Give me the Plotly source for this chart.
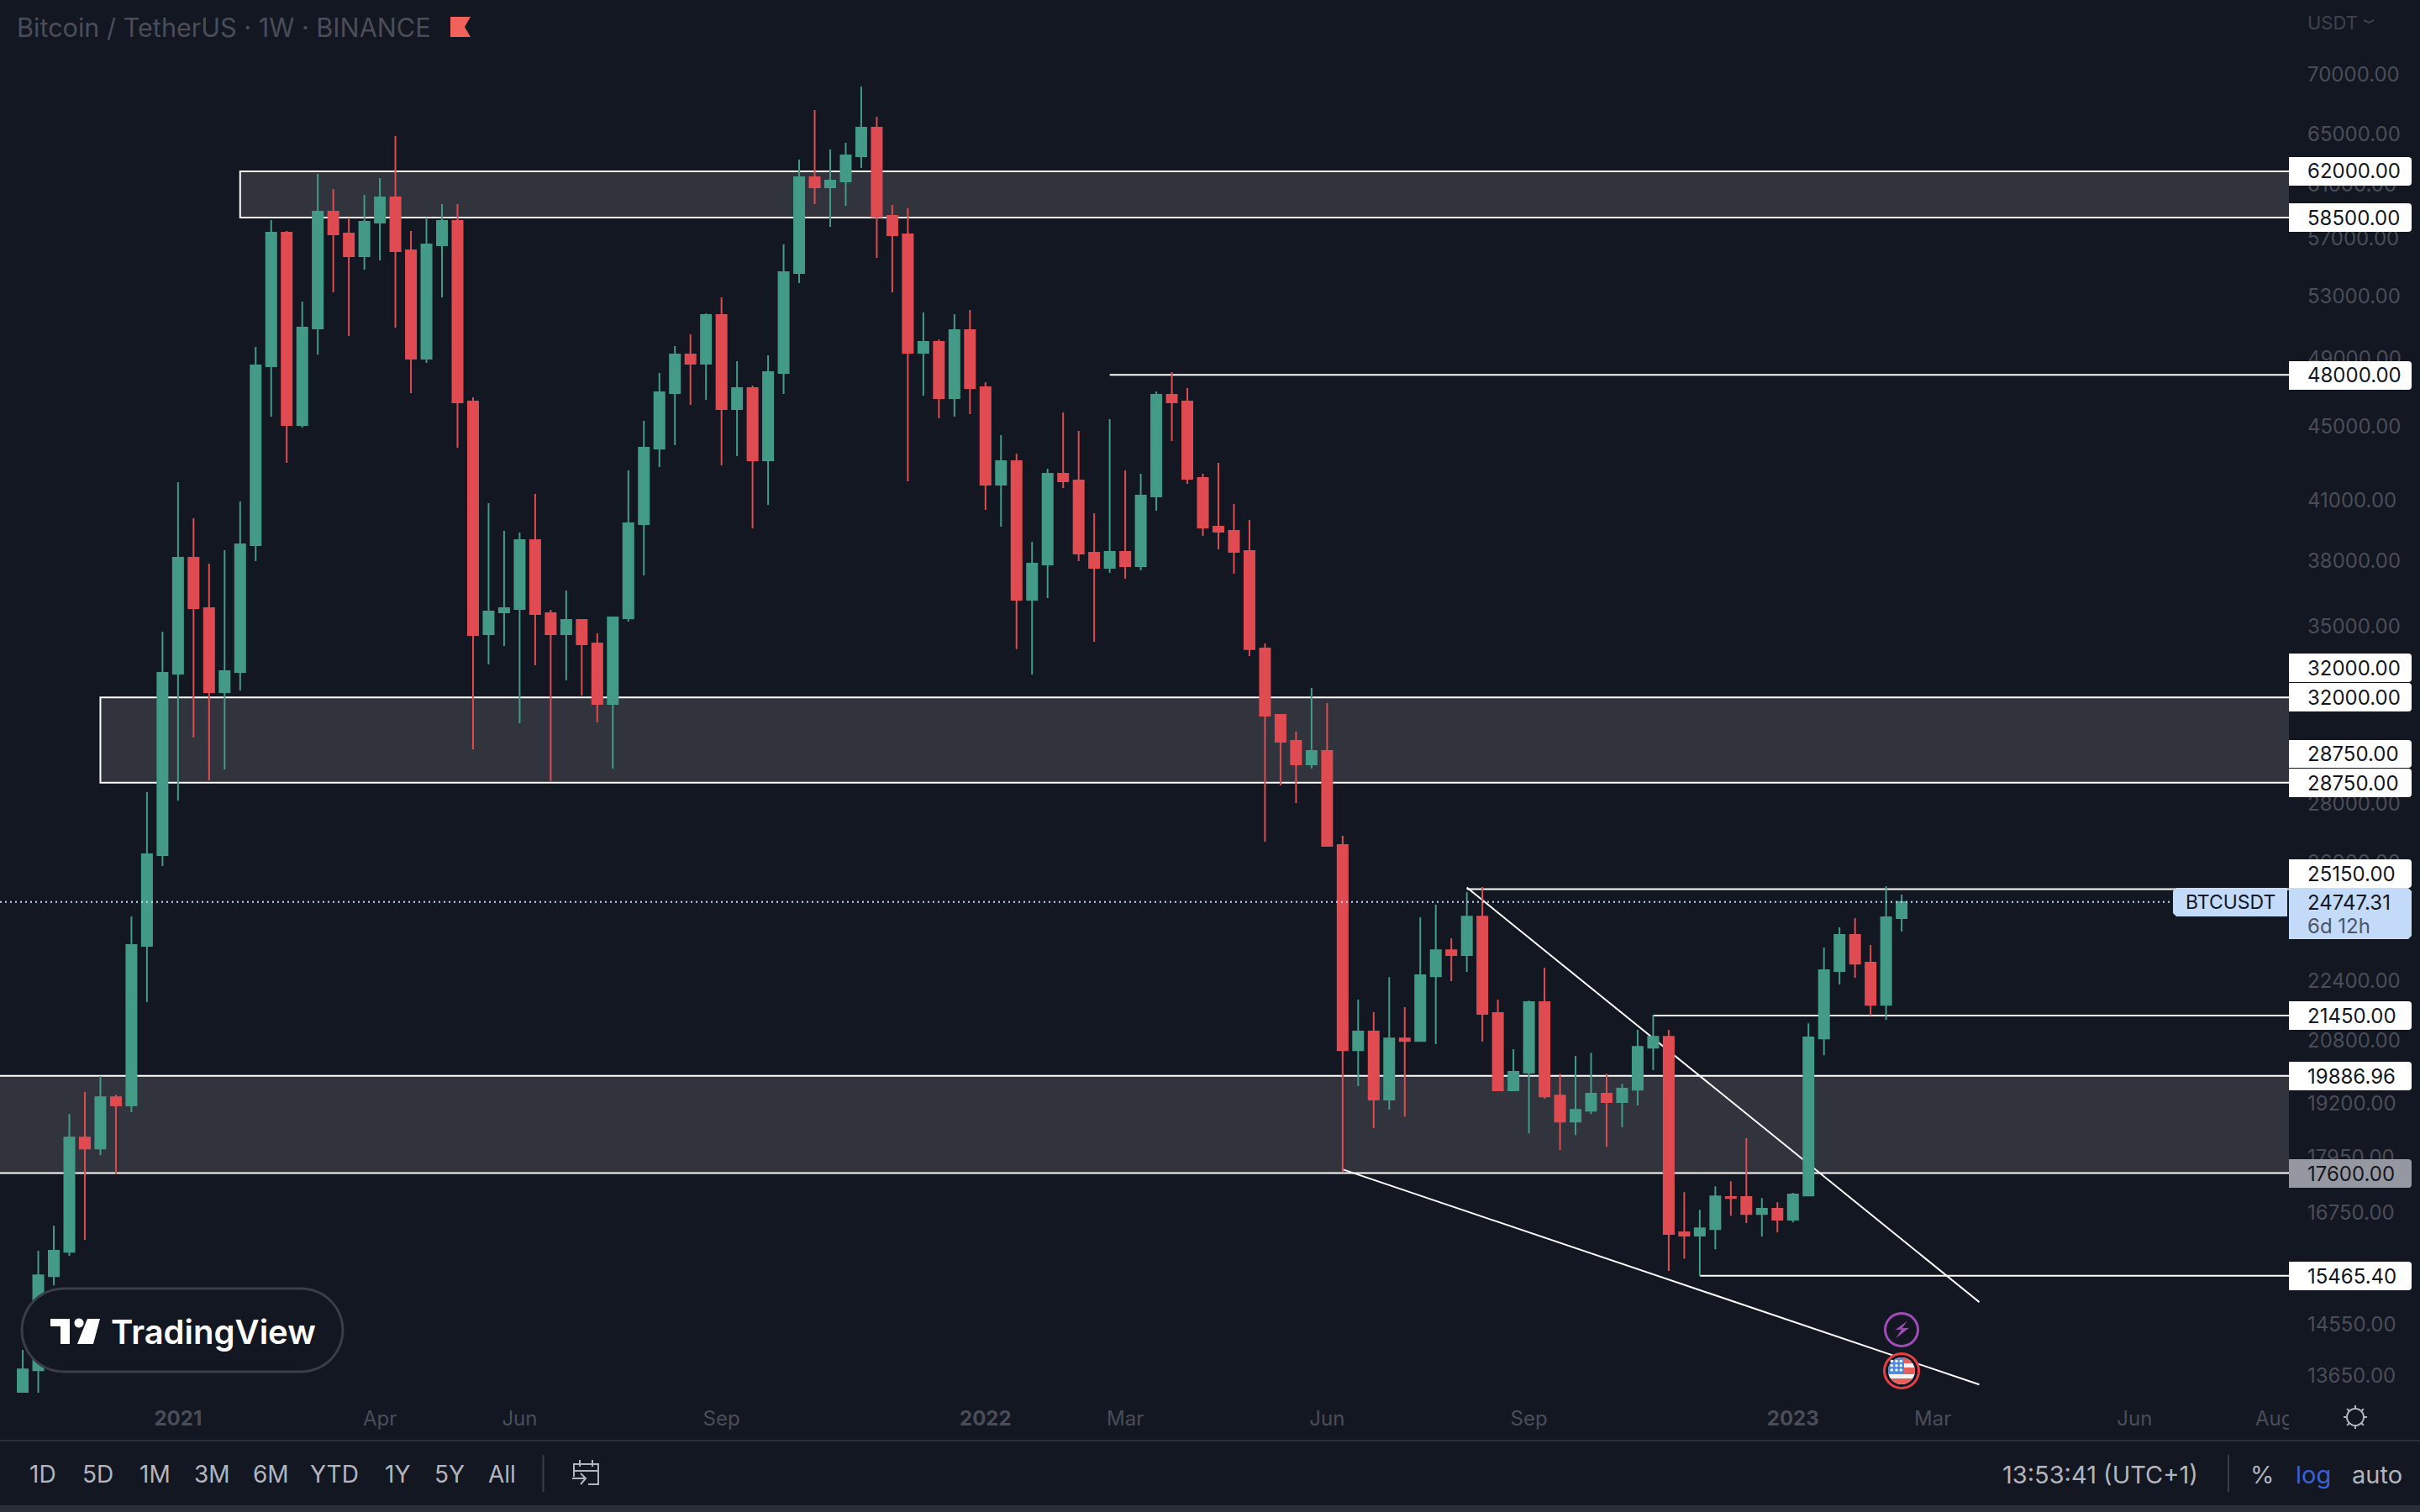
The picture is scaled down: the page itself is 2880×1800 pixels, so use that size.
import math
import pandas as pd
import plotly.graph_objects as go

W, H = 2880, 1800
PANE_R, PANE_B = 2724, 1658

BG = "#131722"
GREEN = "#439A86"
RED = "#E04B52"
ZONE = "#31343D"
DIM = "#4A4D58"
MENU = "#B2B5BE"
WHITE = "#FFFFFF"

# weekly candles, first one is the week of 26 Oct 2020
dates = pd.date_range("2020-10-26", periods=122, freq="7D")

opens = [13290, 13735, 15460, 15940, 18400, 18150, 19360, 19160, 23415, 26245,
         32970, 38145, 35800, 32215, 33040, 38750, 48525, 57400, 45070, 50890,
         58935, 57340, 55725, 58130, 60000, 56140, 48990, 56500, 58255, 46420,
         34650, 35615, 35765, 39000, 35575, 34650, 35275, 34250, 31740, 35350,
         39790, 43755, 46915, 49250, 48680, 51755, 45980, 47215, 43115, 48120,
         54560, 61545, 60770, 61220, 63190, 65500, 58625, 57280, 49355, 50035,
         46620, 50780, 47265, 41815, 43065, 36180, 37820, 42390, 42035, 38385,
         37660, 38425, 37740, 41200, 46815, 46420, 42170, 39660, 39455, 38465,
         34030, 31305, 30300, 29415, 29915, 26580, 20540, 21025, 19300, 20845,
         20780, 22540, 23290, 23145, 24295, 21520, 19525, 19965, 21815, 19400,
         18775, 19035, 19445, 19240, 19545, 20605, 20890, 16335, 16265, 16400,
         17075, 17075, 16715, 16825, 16595, 17110, 20845, 22685, 23740, 22925,
         21745, 24245]
highs = [14090, 15960, 16470, 18955, 19485, 19880, 19420, 24300, 28410, 34760,
         41945, 40085, 37860, 38505, 40940, 49720, 58315, 57520, 52635, 61800,
         60640, 58500, 60195, 61480, 64810, 57520, 58500, 59500, 59500, 46670,
         40850, 39455, 39370, 41330, 35725, 36605, 35275, 34685, 35390, 42570,
         45310, 48120, 49775, 50515, 51865, 52915, 48835, 47360, 49200, 56555,
         62925, 66965, 63725, 64265, 68975, 66405, 59435, 59185, 51920, 50195,
         51810, 52085, 47565, 44500, 43480, 38915, 42660, 45790, 44735, 40340,
         45405, 42570, 42390, 47015, 48170, 47215, 42390, 42980, 40810, 40000,
         34250, 31305, 30650, 32385, 31775, 26890, 21885, 21540, 22515, 21680,
         24270, 24660, 23640, 25055, 25215, 21885, 20565, 21860, 22780, 19940,
         20390, 20475, 19940, 19690, 21070, 21470, 21070, 17180, 16805, 17310,
         17420, 18385, 17055, 16965, 17165, 21245, 23365, 23965, 24245, 23440,
         25240, 24975]
lows = [13040, 13100, 15280, 15860, 16180, 18000, 17570, 19000, 21815, 25890,
        28110, 30430, 28830, 29230, 32280, 37985, 45550, 42980, 44925, 49250,
        53250, 50410, 54795, 55435, 50945, 46915, 48735, 52915, 43800, 29980,
        33355, 34140, 30980, 33320, 28800, 32695, 32075, 31010, 29260, 35200,
        37305, 42750, 43940, 46225, 46520, 42840, 43340, 39580, 40770, 46865,
        53875, 59500, 57825, 59370, 62260, 55610, 53250, 41990, 46770, 45450,
        45550, 45690, 40510, 39660, 34000, 32935, 36260, 41635, 37980, 34320,
        37425, 37150, 37545, 40470, 44175, 41860, 39205, 38550, 37385, 33710,
        26695, 28650, 28020, 29260, 26550, 17625, 19630, 18620, 19057, 18895,
        20760, 20695, 22400, 22660, 20760, 19505, 19525, 18500, 19320, 18115,
        18460, 18955, 18190, 18640, 19160, 20030, 15560, 15805, 15465, 15990,
        16680, 16525, 16250, 16335, 16540, 17090, 20410, 22305, 22495, 21450,
        21340, 23840]
closes = [13750, 15475, 15960, 18400, 18150, 19360, 19160, 23440, 26270, 33005,
          38145, 35800, 32215, 33075, 38795, 48580, 57400, 45070, 50940, 58935,
          57280, 55725, 58195, 60000, 56080, 48990, 56555, 58255, 46370, 34610,
          35650, 35800, 39000, 35540, 34650, 35275, 34210, 31740, 35385, 39830,
          43800, 46965, 49250, 48680, 51755, 45980, 47215, 43115, 48170, 54620,
          61545, 60770, 61285, 63255, 65500, 58565, 57220, 49355, 50035, 46620,
          50780, 47215, 41815, 43065, 36180, 37860, 42390, 41990, 38345, 37660,
          38425, 37740, 41240, 46815, 46370, 42125, 39620, 39415, 38425, 34000,
          31275, 30265, 29415, 29915, 26550, 20540, 21025, 19300, 20845, 20780,
          22565, 23290, 23145, 24295, 21495, 19525, 19985, 21815, 19380, 18775,
          19055, 19445, 19240, 19570, 20625, 20890, 16300, 16265, 16420, 17090,
          17055, 16715, 16825, 16595, 17130, 20870, 22710, 23740, 22900, 21745,
          24270, 24747.31]

price_ticks = [70000, 65000, 61000, 57000, 53000, 49000, 45000, 41000, 38000, 35000,
               28000, 26000, 22400, 20800, 19200, 17950, 16750, 14550, 13650]
time_ticks = ["2021-01-04", "2021-04-05", "2021-06-07", "2021-09-06", "2022-01-03", "2022-03-07",
              "2022-06-06", "2022-09-05", "2023-01-02", "2023-03-06", "2023-06-05", "2023-08-07"]
time_labels = ["<b>2021</b>", "Apr", "Jun", "Sep", "<b>2022</b>", "Mar", "Jun", "Sep",
               "<b>2023</b>", "Mar", "Jun", "Aug"]

x_range = ["2020-10-15 18:00", "2023-08-13 14:00"]
y_top, y_bottom = 76900, 13352

# drawings on the chart: start date, price
zones = [("2021-02-01", 58500, 62000), ("2020-11-30", 28750, 32000), ("2020-01-01", 17600, 19886.96)]
rays = [("2022-02-28", 48000), ("2022-08-08", 25150), ("2022-10-31", 21450), ("2022-11-21", 15465.40)]
trends = [("2022-08-08", 25200, "2023-03-27", 14963), ("2022-06-13", 17680, "2023-03-27", 13490)]
last_price = 24747.31

buttons = ["1D", "5D", "1M", "3M", "6M", "YTD", "1Y", "5Y", "All"]
button_x = [51, 116, 184, 253, 322, 398, 473, 535, 597]

tags = [(187, 221, "62000.00"), (242, 276, "58500.00"), (430, 464, "48000.00"),
        (778, 812, "32000.00"), (813, 847, "32000.00"), (881, 914, "28750.00"),
        (915, 949, "28750.00"), (1023, 1057, "25150.00"), (1192, 1226, "21450.00"),
        (1264, 1298, "19886.96"), (1502, 1536, "15465.40")]


def px(x):
    return x / W


def py(y):
    return 1 - y / H


def pts(points, close=True):
    s = "M" + " L".join(f"{px(a):.5f},{py(b):.5f}" for a, b in points)
    return s + (" Z" if close else "")


def circle_pts(cx, cy, r, n=48):
    return [(cx + r * math.cos(2 * math.pi * k / n), cy + r * math.sin(2 * math.pi * k / n)) for k in range(n)]


def strip(cx, cy, r, y0, y1, x_max=None):
    # part of a circle between two heights, used for the flag
    left, right = [], []
    for k in range(9):
        dy = y0 + (y1 - y0) * k / 8
        half = math.sqrt(max(r * r - dy * dy, 0))
        left.append((cx - half, cy + dy))
        xr = cx + half if x_max is None else min(cx + half, cx + x_max)
        right.append((xr, cy + dy))
    return left + right[::-1]


def pill(x0, x1, y0, y1):
    r = (y1 - y0) / 2
    out = []
    for k in range(25):
        a = -math.pi / 2 + math.pi * k / 24
        out.append((x1 - r + r * math.cos(a), y0 + r + r * math.sin(a)))
    for k in range(25):
        a = math.pi / 2 + math.pi * k / 24
        out.append((x0 + r + r * math.cos(a), y0 + r + r * math.sin(a)))
    return out


shapes = []
notes = []


def poly(points, fill=None, line=None, width=0, close=True):
    shapes.append(dict(type="path", xref="paper", yref="paper", path=pts(points, close), layer="above",
                       fillcolor=fill if fill else "rgba(0,0,0,0)",
                       line=dict(color=line if line else "rgba(0,0,0,0)", width=width)))


def txt(x, y, text, size, color, anchor="left", weight=400):
    notes.append(dict(xref="paper", yref="paper", x=px(x), y=py(y), text=text, showarrow=False,
                      xanchor=anchor, yanchor="middle", borderpad=0,
                      font=dict(family="Inter", size=size, color=color, weight=weight)))


def tag(y0, y1, text, bg=WHITE):
    r = 4
    shapes.append(dict(type="path", xref="paper", yref="paper", layer="above", fillcolor=bg, line=dict(width=0),
                       path=(f"M{px(PANE_R)},{py(y0)} L{px(2870 - r)},{py(y0)} "
                             f"Q{px(2870)},{py(y0)} {px(2870)},{py(y0 + r)} "
                             f"L{px(2870)},{py(y1 - r)} Q{px(2870)},{py(y1)} {px(2870 - r)},{py(y1)} "
                             f"L{px(PANE_R)},{py(y1)} Z")))
    txt(2745, (y0 + y1) / 2, text, 24, BG)


# zones, rays and trend lines sit under the candles
for start, low, high in zones:
    shapes.append(dict(type="rect", xref="x", yref="y", x0=start, x1="2023-09-01", y0=low, y1=high,
                       fillcolor=ZONE, line=dict(color=WHITE, width=2), layer="below"))
for start, level in rays:
    shapes.append(dict(type="line", xref="x", yref="y", x0=start, x1="2023-09-01", y0=level, y1=level,
                       line=dict(color=WHITE, width=2), layer="below"))
for d0, p0, d1, p1 in trends:
    shapes.append(dict(type="line", xref="x", yref="y", x0=d0, x1=d1, y0=p0, y1=p1,
                       line=dict(color=WHITE, width=2), layer="below"))
shapes.append(dict(type="line", xref="paper", yref="y", x0=0, x1=px(2586), y0=last_price, y1=last_price,
                   line=dict(color="#C3D9F7", width=2, dash="2px,4px"), layer="above"))

# cover the end of the Aug label
poly([(PANE_R, PANE_B), (W, PANE_B), (W, 1713), (PANE_R, 1713)], fill=BG)

# price tags
for y0, y1, text in tags:
    tag(y0, y1, text)
tag(1380, 1414, "17600.00", bg="#9598A1")
poly([(PANE_R, 1057), (2866, 1057), (2870, 1061), (2870, 1114), (2866, 1118), (PANE_R, 1118)], fill="#C3DAF8")
txt(2745, 1074, "24747.31", 24, BG)
txt(2745, 1102, "6d 12h", 24, "#4A5568")
poly([(2590, 1057), (2722, 1057), (2722, 1091), (2590, 1091), (2586, 1087), (2586, 1061)], fill="#C3DAF8")
txt(2654, 1074, "BTCUSDT", 23, BG, anchor="center")

# header
txt(19, 32, "Bitcoin / TetherUS · 1W · BINANCE", 30.6, DIM)
poly([(536, 20), (560, 20), (553, 32), (560, 44), (536, 44)], fill="#F0625A")
txt(2745, 27, "USDT", 22, "#3F424D")
poly([(2813, 24), (2819, 27), (2825, 24)], line="#3F424D", width=2, close=False)

# watermark
poly(pill(26, 408, 1534, 1633), fill=BG, line="#3A3E4A", width=3)
poly([(60, 1570), (83, 1570), (83, 1600), (72, 1600), (72, 1579), (60, 1579)], fill=WHITE)
poly(circle_pts(94, 1575, 5.5, 20), fill=WHITE)
poly([(104, 1570), (119, 1570), (111, 1600), (92, 1600)], fill=WHITE)
txt(131, 1585, "TradingView", 40, WHITE, weight=600)

# event marks
poly(circle_pts(2263, 1583, 19.5), line="#A04CB5", width=3)
poly([(2263 + a, 1583 + b) for a, b in [(6.7, -10.3), (-7.7, 0.3), (0, -0.3), (-6.7, 10.3), (9, -2.3), (0.7, -1.7)]],
     fill="#A04CB5")
poly(circle_pts(2263, 1632, 20.5), fill=BG, line="#E53F44", width=3)
poly(circle_pts(2263, 1632, 16), fill="#F4F4F6")
for y0, y1 in [(-16, -9), (-4, 4), (9, 16)]:
    poly(strip(2263, 1632, 16, y0, y1), fill="#E5605C")
poly(strip(2263, 1632, 16, -16, 3, x_max=3), fill="#4C8BE0")
for sx in (-11.7, -6, -0.7):
    for sy in (-11.7, -6.3, -1):
        poly(circle_pts(2263 + sx, 1632 + sy, 1.7, 10), fill=WHITE)

# gear
poly(circle_pts(2803, 1687, 10), line=MENU, width=2)
for k in range(8):
    a = math.pi * k / 4
    poly([(2803 + 10 * math.cos(a), 1687 + 10 * math.sin(a)), (2803 + 14 * math.cos(a), 1687 + 14 * math.sin(a))],
         line=MENU, width=2, close=False)

# bottom toolbar
poly([(0, 1714), (W, 1714), (W, 1716), (0, 1716)], fill="#2A2E39")
poly([(0, 1792), (W, 1792), (W, H), (0, H)], fill="#2A2E39")
for x, label in zip(button_x, buttons):
    txt(x, 1755, label, 28, MENU, anchor="center")
poly([(646.5, 1732), (646.5, 1776)], line="#3A3E4A", width=2, close=False)
poly([(2652, 1732), (2652, 1776)], line="#3A3E4A", width=2, close=False)
# go-to-date icon
for part in ([(683, 1758), (683, 1743), (712, 1743), (712, 1767), (700, 1767)],
             [(683, 1751), (712, 1751)], [(690, 1738), (690, 1746)], [(705, 1738), (705, 1746)],
             [(681, 1760), (697, 1760)], [(691, 1754), (697, 1760), (691, 1767)]):
    poly(part, line=MENU, width=2, close=False)
txt(2499, 1755, "13:53:41 (UTC+1)", 29, MENU, anchor="center")
txt(2692, 1755, "%", 29, MENU, anchor="center")
txt(2753, 1755, "log", 29, "#3A62D8", anchor="center")
txt(2829, 1755, "auto", 29, MENU, anchor="center")

fig = go.Figure(go.Candlestick(
    x=dates, open=opens, high=highs, low=lows, close=closes,
    increasing=dict(line=dict(color=GREEN, width=2), fillcolor=GREEN),
    decreasing=dict(line=dict(color=RED, width=2), fillcolor=RED),
    whiskerwidth=0, hoverinfo="skip", showlegend=False,
))

fig.update_layout(
    width=W, height=H, margin=dict(l=0, r=0, t=0, b=0, pad=0),
    paper_bgcolor=BG, plot_bgcolor=BG, boxgap=0.35, boxgroupgap=0, showlegend=False,
    shapes=shapes, annotations=notes, dragmode=False,
    font=dict(family="Inter"),
    xaxis=dict(domain=[0, PANE_R / W], anchor="y", range=x_range, rangeslider=dict(visible=False),
               automargin=False, tickmode="array", tickvals=time_ticks, ticktext=time_labels, ticks="",
               ticklabelstandoff=14, tickfont=dict(family="Inter", size=24, color=DIM),
               showgrid=False, zeroline=False, showline=False),
    yaxis=dict(domain=[1 - PANE_B / H, 1], anchor="x", side="right", type="log", automargin=False,
               range=[math.log10(y_bottom), math.log10(y_top)], tickmode="array", tickvals=price_ticks,
               ticktext=[f"{p:.2f}" for p in price_ticks], ticks="", ticklabelstandoff=21,
               tickfont=dict(family="Inter", size=24, color=DIM), showgrid=False, zeroline=False, showline=False),
)

fig.write_html("out.html", config=dict(displayModeBar=False, staticPlot=True),
               post_script="document.body.style.margin=0;document.documentElement.style.overflow='hidden';")
